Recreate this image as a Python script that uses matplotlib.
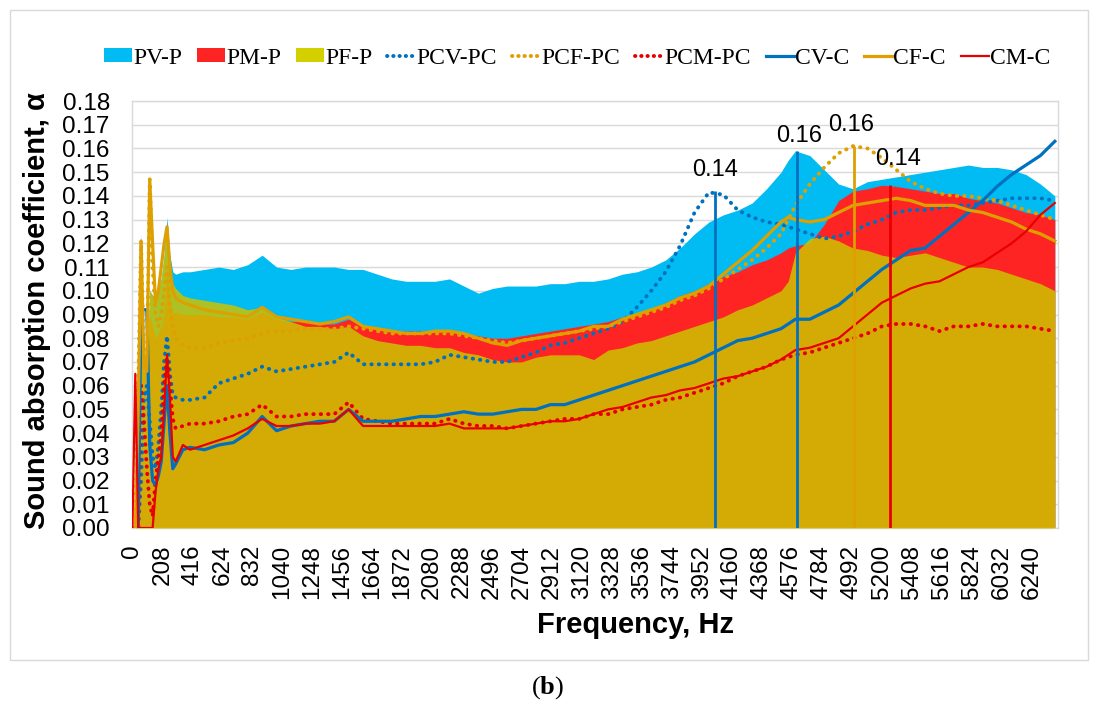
import numpy as np
import matplotlib
matplotlib.use("Agg")
import matplotlib.pyplot as plt
from matplotlib.patches import Patch, Rectangle
from matplotlib.lines import Line2D

# ---------------- data ----------------
freq = [0, 20, 40, 60, 80, 100, 120, 140, 160, 180, 200, 220, 240, 260, 280,
        300, 350, 400, 500, 600, 700, 800, 900, 1000, 1100,
        1200, 1300, 1400, 1500, 1600, 1700, 1800, 1900, 2000, 2100,
        2200, 2300, 2400, 2500, 2600, 2700, 2800, 2900, 3000, 3100,
        3200, 3300, 3400, 3500, 3600, 3700, 3800, 3900, 4000, 4100,
        4200, 4300, 4400, 4500, 4550, 4600, 4700, 4800, 4900, 5000,
        5100, 5200, 5300, 5400, 5500, 5600, 5700, 5800, 5900, 6000,
        6100, 6200, 6300, 6400]

pv_p = [0, 0, 0.06, 0.124, 0.06, 0.058, 0.10, 0.098, 0.097, 0.10, 0.105, 0.115, 0.131, 0.115, 0.108,
        0.107, 0.108, 0.108, 0.109, 0.110, 0.109, 0.111, 0.115, 0.110, 0.109,
        0.110, 0.110, 0.110, 0.109, 0.109, 0.107, 0.105, 0.104, 0.104, 0.104,
        0.105, 0.102, 0.099, 0.101, 0.102, 0.102, 0.102, 0.103, 0.103, 0.104,
        0.104, 0.105, 0.107, 0.108, 0.110, 0.113, 0.118, 0.124, 0.129, 0.132,
        0.134, 0.137, 0.143, 0.150, 0.155, 0.159, 0.157, 0.151, 0.145, 0.143,
        0.146, 0.147, 0.148, 0.149, 0.150, 0.151, 0.152, 0.153, 0.152, 0.152,
        0.151, 0.149, 0.145, 0.140]

pm_p = [0, 0, 0.05, 0.12, 0.066, 0.066, 0.09, 0.085, 0.08, 0.082, 0.085, 0.09, 0.11, 0.095, 0.09,
        0.091, 0.090, 0.090, 0.090, 0.089, 0.089, 0.088, 0.091, 0.088, 0.087,
        0.087, 0.086, 0.086, 0.088, 0.085, 0.084, 0.083, 0.083, 0.083, 0.083,
        0.083, 0.082, 0.081, 0.080, 0.080, 0.081, 0.082, 0.083, 0.084, 0.085,
        0.086, 0.087, 0.089, 0.090, 0.092, 0.095, 0.098, 0.100, 0.103, 0.106,
        0.108, 0.111, 0.113, 0.116, 0.118, 0.119, 0.120, 0.128, 0.138, 0.142,
        0.143, 0.1445, 0.144, 0.143, 0.142, 0.141, 0.141, 0.139, 0.138, 0.137,
        0.135, 0.133, 0.132, 0.130]

pf_p = [0, 0, 0.055, 0.12, 0.066, 0.066, 0.10, 0.098, 0.095, 0.10, 0.105, 0.115, 0.127, 0.11, 0.103,
        0.101, 0.098, 0.097, 0.096, 0.095, 0.094, 0.092, 0.093, 0.089, 0.087,
        0.085, 0.085, 0.084, 0.085, 0.081, 0.079, 0.078, 0.077, 0.077, 0.076,
        0.076, 0.074, 0.073, 0.071, 0.070, 0.070, 0.072, 0.073, 0.073, 0.073,
        0.071, 0.075, 0.076, 0.078, 0.079, 0.081, 0.083, 0.085, 0.087, 0.089,
        0.092, 0.094, 0.097, 0.100, 0.104, 0.116, 0.122, 0.123, 0.121, 0.118,
        0.117, 0.115, 0.114, 0.115, 0.116, 0.114, 0.112, 0.110, 0.110, 0.109,
        0.107, 0.105, 0.103, 0.100]

pcv_pc = [0, 0, 0, 0.02, 0.055, 0.06, 0.045, 0.03, 0.025, 0.035, 0.05, 0.07, 0.081, 0.065, 0.056,
          0.055, 0.054, 0.054, 0.055, 0.061, 0.063, 0.065, 0.068, 0.066, 0.067,
          0.068, 0.069, 0.070, 0.074, 0.069, 0.069, 0.069, 0.069, 0.069, 0.070,
          0.073, 0.072, 0.071, 0.070, 0.070, 0.072, 0.074, 0.077, 0.078, 0.080,
          0.082, 0.084, 0.087, 0.093, 0.100, 0.108, 0.119, 0.133, 0.1415, 0.1405,
          0.134, 0.131, 0.129, 0.128, 0.127, 0.126, 0.124, 0.122, 0.123, 0.125,
          0.128, 0.130, 0.133, 0.134, 0.134, 0.135, 0.136, 0.136, 0.137, 0.138,
          0.139, 0.139, 0.139, 0.138]

pcf_pc = [0, 0, 0.06, 0.121, 0.07, 0.066, 0.147, 0.11, 0.09, 0.085, 0.09, 0.10, 0.11, 0.095, 0.085,
          0.080, 0.077, 0.076, 0.076, 0.078, 0.079, 0.080, 0.082, 0.083, 0.083,
          0.084, 0.084, 0.084, 0.085, 0.084, 0.083, 0.082, 0.082, 0.082, 0.082,
          0.082, 0.081, 0.080, 0.079, 0.078, 0.079, 0.080, 0.081, 0.082, 0.083,
          0.084, 0.085, 0.087, 0.089, 0.091, 0.093, 0.096, 0.098, 0.101, 0.105,
          0.109, 0.113, 0.118, 0.124, 0.130, 0.136, 0.145, 0.152, 0.158, 0.161,
          0.160, 0.156, 0.151, 0.146, 0.143, 0.141, 0.140, 0.140, 0.139, 0.138,
          0.136, 0.134, 0.132, 0.130]

pcm_pc = [0, 0, 0, 0.06, 0.045, 0.025, 0.01, 0.005, 0.02, 0.03, 0.04, 0.06, 0.072, 0.06, 0.046,
          0.042, 0.043, 0.044, 0.044, 0.045, 0.047, 0.048, 0.052, 0.047, 0.047,
          0.048, 0.048, 0.048, 0.053, 0.046, 0.045, 0.044, 0.044, 0.044, 0.044,
          0.046, 0.044, 0.043, 0.043, 0.042, 0.043, 0.044, 0.045, 0.046, 0.046,
          0.048, 0.048, 0.050, 0.051, 0.052, 0.054, 0.055, 0.057, 0.059, 0.061,
          0.064, 0.066, 0.068, 0.071, 0.072, 0.073, 0.074, 0.076, 0.078, 0.080,
          0.082, 0.085, 0.086, 0.086, 0.085, 0.083, 0.085, 0.085, 0.086, 0.085,
          0.085, 0.085, 0.084, 0.083]

cv_c = [0, 0, 0, 0.092, 0.092, 0.092, 0.035, 0.02, 0.018, 0.022, 0.028, 0.045, 0.06, 0.04, 0.025,
        0.027, 0.033, 0.034, 0.033, 0.035, 0.036, 0.040, 0.047, 0.041, 0.043,
        0.044, 0.045, 0.045, 0.050, 0.045, 0.045, 0.045, 0.046, 0.047, 0.047,
        0.048, 0.049, 0.048, 0.048, 0.049, 0.050, 0.050, 0.052, 0.052, 0.054,
        0.056, 0.058, 0.060, 0.062, 0.064, 0.066, 0.068, 0.070, 0.073, 0.076,
        0.079, 0.080, 0.082, 0.084, 0.086, 0.088, 0.088, 0.091, 0.094, 0.099,
        0.104, 0.109, 0.113, 0.117, 0.118, 0.123, 0.128, 0.133, 0.138, 0.144,
        0.149, 0.153, 0.157, 0.163]

cf_c = [0, 0, 0.05, 0.121, 0.068, 0.066, 0.147, 0.12, 0.095, 0.10, 0.11, 0.12, 0.127, 0.11, 0.10,
        0.097, 0.095, 0.094, 0.092, 0.091, 0.090, 0.089, 0.093, 0.089, 0.088,
        0.087, 0.086, 0.087, 0.089, 0.085, 0.084, 0.083, 0.082, 0.082, 0.083,
        0.083, 0.082, 0.080, 0.078, 0.077, 0.079, 0.080, 0.081, 0.082, 0.083,
        0.085, 0.085, 0.088, 0.090, 0.092, 0.094, 0.097, 0.099, 0.102, 0.107,
        0.112, 0.117, 0.123, 0.129, 0.131, 0.130, 0.129, 0.130, 0.133, 0.136,
        0.137, 0.138, 0.139, 0.138, 0.136, 0.136, 0.136, 0.134, 0.133, 0.131,
        0.129, 0.126, 0.124, 0.121]

cm_c = [0, 0.065, 0, 0, 0, 0, 0, 0, 0.015, 0.025, 0.03, 0.05, 0.073, 0.055, 0.03,
        0.028, 0.035, 0.033, 0.035, 0.037, 0.039, 0.042, 0.046, 0.043, 0.043,
        0.044, 0.044, 0.045, 0.050, 0.043, 0.043, 0.043, 0.043, 0.043, 0.043,
        0.044, 0.042, 0.042, 0.042, 0.042, 0.043, 0.044, 0.045, 0.045, 0.046,
        0.048, 0.050, 0.051, 0.053, 0.055, 0.056, 0.058, 0.059, 0.061, 0.063,
        0.064, 0.066, 0.068, 0.071, 0.073, 0.075, 0.076, 0.078, 0.080, 0.085,
        0.090, 0.095, 0.098, 0.101, 0.103, 0.104, 0.107, 0.110, 0.112, 0.116,
        0.120, 0.125, 0.132, 0.137]

# peak markers (drop lines with value labels)
peak_freq = [4040, 4610, 5005, 5255]
peak_val = [0.142, 0.159, 0.161, 0.1445]
peak_label = ["0.14", "0.16", "0.16", "0.14"]

x_ticks = list(range(0, 6241, 208))
y_ticks = [i / 100 for i in range(0, 19)]

# ---------------- styling ----------------
C_PV = "#00BCF2"
C_PM = "#FF2424"
C_PF = "#CDC200"
C_BLUE = "#0070C0"
C_ORANGE = "#DDA000"
C_RED = "#E80000"
GRID = "#D9D9D9"

plt.rcParams['font.family'] = ['Liberation Sans', 'DejaVu Sans']
plt.rcParams['mathtext.fontset'] = 'custom'
plt.rcParams['mathtext.rm'] = 'Liberation Serif'
plt.rcParams['mathtext.bf'] = 'Liberation Serif:bold'

W, H = 1097, 705
fig = plt.figure(figsize=(W / 100, H / 100), dpi=100)
ax = fig.add_axes([132 / W, 1 - 528 / H, 926 / W, 427 / H])

ax.fill_between(freq, 0, pv_p, color=C_PV, lw=0, zorder=1)
ax.fill_between(freq, 0, pm_p, color=C_PM, lw=0, zorder=2)
ax.fill_between(freq, 0, pf_p, color=C_PF, alpha=0.85, lw=0, zorder=3)

dot = (0, (0.1, 1.8))
ax.plot(freq, pcv_pc, color=C_BLUE, lw=2.8, ls=dot, dash_capstyle='round', zorder=5)
ax.plot(freq, pcf_pc, color=C_ORANGE, lw=2.8, ls=dot, dash_capstyle='round', zorder=5)
ax.plot(freq, pcm_pc, color=C_RED, lw=2.8, ls=dot, dash_capstyle='round', zorder=5)
ax.plot(freq, cv_c, color=C_BLUE, lw=2.3, zorder=6)
ax.plot(freq, cf_c, color=C_ORANGE, lw=2.3, zorder=6)
ax.plot(freq, cm_c, color=C_RED, lw=1.6, zorder=6)

drop_colors = [C_BLUE, C_BLUE, C_ORANGE, C_RED]
ax.vlines(peak_freq, 0, peak_val, colors=drop_colors, lw=2.0, zorder=7)
offsets = [(0, 7), (2, 3), (-2, 7), (6, 11)]
for f, v, lab, off in zip(peak_freq, peak_val, peak_label, offsets):
    ax.annotate(lab, (f, v), xytext=off, textcoords='offset points',
                ha='center', va='bottom', fontsize=17, zorder=8)

ax.set_xlim(-3, 6422)
ax.set_ylim(0, 0.18)
ax.set_yticks(y_ticks)
ax.set_yticklabels([f"{v:.2f}" for v in y_ticks], fontsize=17.5)
ax.set_xticks(x_ticks)
ax.set_xticklabels([str(t) for t in x_ticks], rotation=90, fontsize=17.5)
ax.tick_params(axis='both', length=0)
ax.tick_params(axis='y', pad=16)
ax.tick_params(axis='x', pad=12)
ax.yaxis.grid(True, color=GRID, lw=1)
ax.set_axisbelow(True)
for s in ax.spines.values():
    s.set_color(GRID)
    s.set_linewidth(1)

ax.set_ylabel("Sound absorption coefficient, α", fontsize=21, fontweight='bold')
ax.yaxis.set_label_coords(-0.087, 0.51)
ax.set_xlabel("Frequency, Hz", fontsize=21, fontweight='bold')
ax.xaxis.set_label_coords(0.544, -0.195)

handles = [
    Patch(facecolor=C_PV, edgecolor='none', label='PV-P'),
    Patch(facecolor=C_PM, edgecolor='none', label='PM-P'),
    Patch(facecolor="#D4D000", edgecolor='none', label='PF-P'),
    Line2D([], [], color=C_BLUE, lw=2.8, ls=(0, (0.1, 1.5)), dash_capstyle='round', label='PCV-PC'),
    Line2D([], [], color=C_ORANGE, lw=2.8, ls=(0, (0.1, 1.5)), dash_capstyle='round', label='PCF-PC'),
    Line2D([], [], color=C_RED, lw=2.8, ls=(0, (0.1, 1.5)), dash_capstyle='round', label='PCM-PC'),
    Line2D([], [], color=C_BLUE, lw=2.3, label='CV-C'),
    Line2D([], [], color=C_ORANGE, lw=2.3, label='CF-C'),
    Line2D([], [], color=C_RED, lw=1.6, label='CM-C'),
]
fig.legend(handles=handles, loc='center', bbox_to_anchor=(577 / W, 1 - 58 / H),
           ncol=9, frameon=False, prop={'family': 'Liberation Serif', 'size': 17},
           handlelength=1.2, handleheight=0.55, handletextpad=0.05,
           columnspacing=0.62, borderpad=0)

fig.add_artist(Rectangle((10 / W, 1 - 660 / H), 1078 / W, 650 / H,
                         transform=fig.transFigure, fill=False, ec=GRID, lw=1))
fig.text(548 / W, 1 - 688 / H, r"($\mathbf{b}$)", ha='center', va='center',
         fontsize=19, family='Liberation Serif')

fig.savefig("out.png", dpi=100)
